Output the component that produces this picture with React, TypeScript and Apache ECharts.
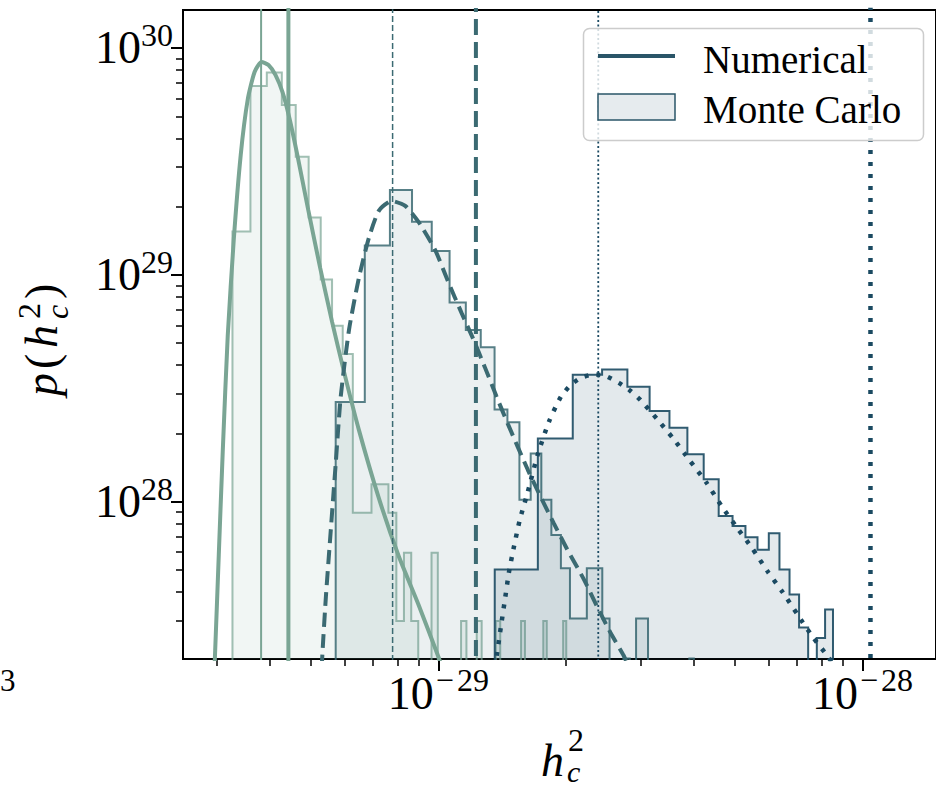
import React, { useEffect, useRef } from "react";
import * as echarts from "echarts";

// ---------- data ----------
const X_LIMITS = [2.5e-30, 1.49e-28];
const Y_LIMITS = [2.03e27, 1.47e30];
const X_MAJOR_TICKS = [1e-29, 1e-28];
const Y_MAJOR_TICKS = [1e28, 1e29, 1e30];

const SAMPLE_SIZE = 1000;

// light green histogram (linear bins)
const GREEN_BIN_START = 3.27e-30;
const GREEN_BIN_WIDTH = 3.35e-31;
const GREEN_COUNTS = [
  52, 228, 261, 188, 111, 60, 32, 20, 15, 3, 3, 4, 4, 3, 1, 2, 1, 0, 0, 2, 0, 0, 0, 0, 1,
  0, 0, 1, 0, 0, 0, 1, 0, 0, 0, 0, 0, 1, 0, 0, 0, 0, 0, 1, 0, 0, 0, 0, 0, 1,
];

// mid teal histogram
const MID_BIN_START = 5.727e-30;
const MID_BIN_WIDTH = 9.8e-31;
const MID_COUNTS = [
  27, 132, 232, 168, 125, 74, 56, 47, 25, 22, 10, 16, 10, 7, 5, 3, 3, 5, 5, 3, 1, 1, 2, 1, 3,
  3, 1, 0, 1, 1, 0, 1, 0, 1, 2,
];

// dark navy histogram
const DARK_BIN_START = 1.358e-29;
const DARK_BIN_WIDTH = 3.58e-30;
const DARK_COUNTS = [18, 68, 130, 137, 115, 90, 76, 58, 45, 31, 28, 25, 22, 26, 18, 14, 10, 6, 9, 12];

// numerical curves (h_c^2, p)
const GREEN_CURVE_H = [
  2.94e-30, 2.972e-30, 3.036e-30, 3.103e-30, 3.188e-30, 3.293e-30, 3.42e-30, 3.551e-30, 3.687e-30,
  3.829e-30, 3.977e-30, 4.129e-30, 4.289e-30, 4.454e-30, 4.65e-30, 4.934e-30, 5.264e-30, 5.616e-30,
  5.992e-30, 6.495e-30, 7.236e-30, 8.057e-30, 8.979e-30, 1.0e-29, 1.044e-29,
];
const GREEN_CURVE_P = [
  1.276e27, 2.034e27, 5.842e27, 1.695e28, 5.44e28, 1.426e29, 3.378e29, 5.9e29, 7.84e29, 8.675e29,
  8.415e29, 7.607e29, 6.4e29, 4.916e29, 3.378e29, 1.934e29, 1.074e29, 6.209e28, 3.738e28, 2.076e28,
  1.041e28, 5.783e27, 3.518e27, 2.076e27, 1.644e27,
];

const MID_CURVE_H = [
  5.279e-30, 5.33e-30, 5.43e-30, 5.577e-30, 5.729e-30, 5.885e-30, 6.156e-30, 6.495e-30, 6.857e-30,
  7.236e-30, 7.762e-30, 8.356e-30, 8.979e-30, 9.824e-30, 1.055e-29, 1.134e-29, 1.208e-29, 1.286e-29,
  1.369e-29, 1.458e-29, 1.625e-29, 1.742e-29, 1.869e-29, 2.015e-29, 2.206e-29, 2.369e-29, 2.546e-29,
  2.736e-29, 2.815e-29,
];
const MID_CURVE_P = [
  1.485e27, 2.161e27, 3.815e27, 7.53e27, 1.485e28, 2.901e28, 5.723e28, 9.701e28, 1.455e29, 1.914e29,
  2.118e29, 2.014e29, 1.712e29, 1.289e29, 9.316e28, 6.801e28, 5.226e28, 3.933e28, 2.931e28, 2.206e28,
  1.384e28, 1.052e28, 8.08e27, 6.145e27, 4.533e27, 3.446e27, 2.648e27, 2.097e27, 1.857e27,
];

const DARK_CURVE_H = [
  1.352e-29, 1.374e-29, 1.404e-29, 1.435e-29, 1.466e-29, 1.507e-29, 1.556e-29, 1.625e-29, 1.714e-29,
  1.826e-29, 1.944e-29, 2.052e-29, 2.166e-29, 2.328e-29, 2.477e-29, 2.664e-29, 2.836e-29, 2.993e-29,
  3.275e-29, 3.583e-29, 3.919e-29, 4.288e-29, 4.649e-29, 5.042e-29, 5.495e-29, 5.959e-29, 6.484e-29,
  7.033e-29, 7.624e-29, 8.295e-29, 8.553e-29,
];
const DARK_CURVE_P = [
  1.644e27, 2.118e27, 2.813e27, 3.701e27, 4.867e27, 6.336e27, 8.333e27, 1.107e28, 1.611e28, 2.274e28,
  2.901e28, 3.276e28, 3.518e28, 3.645e28, 3.59e28, 3.343e28, 3.083e28, 2.813e28, 2.321e28, 1.895e28,
  1.516e28, 1.213e28, 9.603e27, 7.759e27, 6.241e27, 4.966e27, 3.994e27, 3.178e27, 2.543e27, 2.076e27,
  1.895e27,
];

// reference vertical lines [thin, thick]
const GREEN_LINES = [3.82e-30, 4.43e-30];
const MID_LINES = [7.8e-30, 1.226e-29];
const DARK_LINES = [2.382e-29, 1.044e-28];

const LEGEND_LABELS = ["Numerical", "Monte Carlo"];

// ---------- styling ----------
const GREEN = "#7aa594";
const MID = "#3b6a72";
const DARK = "#1b4a62";
const LEGEND_COLOR = "#2a5568";
const FONT = "Liberation Serif";

const lg = Math.log10;
const X_MIN = lg(X_LIMITS[0]);
const X_MAX = lg(X_LIMITS[1]);
const Y_MIN = lg(Y_LIMITS[0]);
const Y_MAX = lg(Y_LIMITS[1]);
const FLOOR = Y_MIN - 1;

function minorTicks(lo: number, hi: number): number[] {
  const out: number[] = [];
  for (let n = Math.floor(lg(lo)); n <= Math.ceil(lg(hi)); n++) {
    for (let k = 2; k <= 9; k++) {
      const v = k * Math.pow(10, n);
      if (v >= lo && v <= hi) out.push(lg(v));
    }
  }
  return out;
}

function histogram(start: number, width: number, counts: number[]) {
  const pts: number[][] = [[lg(start), FLOOR]];
  counts.forEach((c, i) => {
    const d = c / (SAMPLE_SIZE * width);
    const y = d > 0 ? lg(d) : FLOOR;
    pts.push([lg(start + i * width), y], [lg(start + (i + 1) * width), y]);
  });
  pts.push([lg(start + counts.length * width), FLOOR]);
  return pts;
}

const histSeries = (name: string, start: number, width: number, counts: number[], color: string, so: number, fo: number, z: number) => ({
  type: "line",
  name,
  data: histogram(start, width, counts),
  symbol: "none",
  showSymbol: false,
  silent: true,
  clip: true,
  z,
  lineStyle: { color, width: 2, opacity: so, join: "miter" },
  areaStyle: { color, opacity: fo, origin: "start" },
});

const curveSeries = (name: string, h: number[], p: number[], color: string, type: any, width: number, z: number) => ({
  type: "line",
  name,
  data: h.map((v, i) => [lg(v), lg(p[i])]),
  symbol: "none",
  showSymbol: false,
  silent: true,
  clip: true,
  smooth: 0.2,
  z,
  lineStyle: { color, width, type, cap: "butt" },
});

const vline = (x: number, color: string, width: number, type: any, z: number) => ({
  type: "line",
  data: [
    [lg(x), FLOOR],
    [lg(x), Y_MAX + 1],
  ],
  symbol: "none",
  showSymbol: false,
  silent: true,
  clip: true,
  z,
  lineStyle: { color, width, type, cap: "butt" },
});

const labelRich = {
  b: { fontSize: 46, fontFamily: FONT, lineHeight: 46, verticalAlign: "bottom", color: "#000" },
  m: { fontSize: 32, fontFamily: FONT, lineHeight: 32, padding: [0, 3, 20, 2], verticalAlign: "bottom", color: "#000" },
  s: { fontSize: 32, fontFamily: FONT, lineHeight: 32, padding: [0, 0, 20, 0], verticalAlign: "bottom", color: "#000" },
};
const expFormatter = (v: number) => {
  const n = Math.round(v);
  return n < 0 ? `{b|10}{m|\u2212}{s|${Math.abs(n)}}` : `{b|10}{s|${n}}`;
};

const mathText = (text: string, x: number, y: number, size: number, italic: boolean, z = 50) => ({
  type: "text",
  x,
  y,
  z,
  silent: true,
  style: {
    text,
    fill: "#000",
    font: `${italic ? "italic " : ""}${size}px ${FONT}`,
    fontSize: size,
    fontFamily: FONT,
    fontStyle: italic ? "italic" : "normal",
    align: "left",
    verticalAlign: "middle",
    textAlign: "left",
    textVerticalAlign: "middle",
  },
});

export default function App() {
  const ref = useRef<HTMLDivElement>(null);

  useEffect(() => {
    document.body.style.margin = "0";
    if (!ref.current) return;
    const chart = echarts.init(ref.current, undefined, { renderer: "svg" });

    const majorAxisCommon = {
      type: "value",
      splitLine: { show: false },
      axisLine: { show: true, onZero: false, lineStyle: { color: "#000", width: 2 } },
    };

    const option: any = {
      animation: false,
      backgroundColor: "#ffffff",
      textStyle: { fontFamily: FONT },
      grid: {
        left: 183,
        top: 10,
        right: -5,
        bottom: 130,
        show: true,
        borderColor: "#000",
        borderWidth: 2,
        backgroundColor: "transparent",
      },
      xAxis: [
        {
          ...majorAxisCommon,
          min: X_MIN,
          max: X_MAX,
          position: "bottom",
          axisTick: { show: true, customValues: X_MAJOR_TICKS.map(lg), length: 12, lineStyle: { color: "#000", width: 2 } },
          axisLabel: {
            show: true,
            customValues: X_MAJOR_TICKS.map(lg),
            formatter: expFormatter,
            rich: labelRich,
            fontFamily: FONT,
            margin: 11,
          },
        },
        {
          type: "value",
          min: X_MIN,
          max: X_MAX,
          position: "bottom",
          splitLine: { show: false },
          axisLine: { show: false, onZero: false },
          axisTick: { show: true, customValues: minorTicks(X_LIMITS[0], X_LIMITS[1]), length: 7, lineStyle: { color: "#000", width: 1.5 } },
          axisLabel: { show: false },
        },
      ],
      yAxis: [
        {
          ...majorAxisCommon,
          min: Y_MIN,
          max: Y_MAX,
          position: "left",
          axisTick: { show: true, customValues: Y_MAJOR_TICKS.map(lg), length: 12, lineStyle: { color: "#000", width: 2 } },
          axisLabel: {
            show: true,
            customValues: Y_MAJOR_TICKS.map(lg),
            formatter: expFormatter,
            rich: labelRich,
            fontFamily: FONT,
            margin: 10,
            align: "right",
          },
        },
        {
          type: "value",
          min: Y_MIN,
          max: Y_MAX,
          position: "left",
          splitLine: { show: false },
          axisLine: { show: false, onZero: false },
          axisTick: { show: true, customValues: minorTicks(Y_LIMITS[0], Y_LIMITS[1]), length: 7, lineStyle: { color: "#000", width: 1.5 } },
          axisLabel: { show: false },
        },
      ],
      series: [
        histSeries("MC green", GREEN_BIN_START, GREEN_BIN_WIDTH, GREEN_COUNTS, GREEN, 0.7, 0.1, 2),
        histSeries("MC mid", MID_BIN_START, MID_BIN_WIDTH, MID_COUNTS, MID, 0.85, 0.1, 3),
        histSeries("MC dark", DARK_BIN_START, DARK_BIN_WIDTH, DARK_COUNTS, DARK, 0.9, 0.12, 4),
        curveSeries("Numerical green", GREEN_CURVE_H, GREEN_CURVE_P, GREEN, "solid", 4, 6),
        curveSeries("Numerical mid", MID_CURVE_H, MID_CURVE_P, MID, [14, 7], 4, 6),
        curveSeries("Numerical dark", DARK_CURVE_H, DARK_CURVE_P, DARK, [4, 8], 4.5, 6),
        vline(GREEN_LINES[0], GREEN, 2, "solid", 7),
        vline(GREEN_LINES[1], GREEN, 4, "solid", 7),
        vline(MID_LINES[0], MID, 1.5, [6, 3], 7),
        vline(MID_LINES[1], MID, 4, [16, 7], 7),
        vline(DARK_LINES[0], DARK, 1.8, [2, 2.5], 7),
        vline(DARK_LINES[1], DARK, 4.5, [4, 8], 7),
      ],
      graphic: [
        // legend
        {
          type: "rect",
          z: 100,
          silent: true,
          shape: { x: 583.5, y: 28.5, width: 340, height: 112, r: 6 },
          style: { fill: "rgba(255,255,255,0.8)", stroke: "#cccccc", lineWidth: 1.5 },
        },
        {
          type: "line",
          z: 101,
          silent: true,
          shape: { x1: 598, y1: 56, x2: 675, y2: 56 },
          style: { stroke: LEGEND_COLOR, lineWidth: 4 },
        },
        {
          type: "rect",
          z: 101,
          silent: true,
          shape: { x: 598, y: 94, width: 77, height: 26 },
          style: { fill: "#e6ebee", stroke: LEGEND_COLOR, lineWidth: 1.5 },
        },
        mathText(LEGEND_LABELS[0], 703, 59, 39, false, 102),
        mathText(LEGEND_LABELS[1], 703, 109, 39, false, 102),
        // x axis label h_c^2
        mathText("h", 541, 760, 46, true),
        mathText("2", 568, 740, 32, false),
        mathText("c", 567, 771, 30, true),
        // y axis label p(h_c^2), rotated
        {
          type: "group",
          x: 41,
          y: 396,
          rotation: Math.PI / 2,
          silent: true,
          children: [
            mathText("p", 0, 0, 46, true),
            mathText("(", 27, 0, 46, false),
            mathText("h", 48, 0, 46, true),
            mathText("2", 77, -12, 32, false),
            mathText("c", 77, 16, 32, true),
            mathText(")", 97, 0, 46, false),
          ],
        },
        // fragment of a neighbouring label at the left edge
        {
          type: "text",
          x: 0,
          y: 680,
          silent: true,
          style: {
            text: "3",
            fill: "#000",
            font: `31px ${FONT}`,
            align: "left",
            verticalAlign: "middle",
            textAlign: "left",
            textVerticalAlign: "middle",
          },
        },
      ],
    };

    chart.setOption(option);
    return () => chart.dispose();
  }, []);

  return <div ref={ref} style={{ width: 936, height: 789 }} />;
}
